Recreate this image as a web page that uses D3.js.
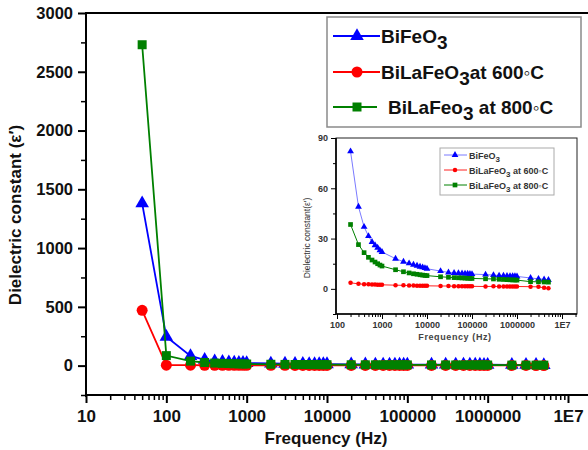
<!DOCTYPE html>
<html>
<head>
<meta charset="utf-8">
<script src="https://cdn.jsdelivr.net/npm/d3@7"></script>
<style>
  body { margin: 0; background: #fff; }
  text { font-family: "Liberation Sans", Arial, sans-serif; }
</style>
</head>
<body>
<div id="chart"></div>
<script>
// frequencies (Hz) measured
var freq = [50, 100, 200, 300, 400, 500, 600, 700, 800, 900,
  1000, 2000, 3000, 4000, 5000, 6000, 7000, 8000, 9000,
  10000, 20000, 30000, 40000, 50000, 60000, 70000, 80000, 90000,
  100000, 200000, 300000, 400000, 500000, 600000, 700000, 800000, 900000,
  1000000, 2000000, 3000000, 4000000, 5000000];

var bifeo3 = [1380, 245, 82, 49, 37, 31.5, 28, 26, 24.5, 23,
  22, 18, 16.2, 15.2, 14.4, 13.8, 13.2, 12.8, 12.4,
  12, 10.6, 9.8, 9.5, 9.3, 9.2, 9.1, 9, 8.9,
  8.8, 8.5, 8.2, 7.9, 7.8, 7.7, 7.6, 7.6, 7.5,
  7.4, 6.5, 6.0, 5.6, 5.3];

var bila600 = [470, 4, 3.6, 3.0, 2.8, 2.7, 2.6, 2.6, 2.5, 2.5,
  2.4, 2.2, 2.1, 2.0, 2.0, 1.9, 1.9, 1.9, 1.8,
  1.8, 1.7, 1.7, 1.6, 1.6, 1.6, 1.6, 1.5, 1.5,
  1.5, 1.4, 1.5, 1.4, 1.4, 1.4, 1.4, 1.4, 1.4,
  1.4, 1.3, 1.2, 0.6, 0.4];

var bila800 = [2730, 85, 38.4, 26.4, 21.6, 18.8, 17.2, 16, 15, 14.2,
  13.6, 11.4, 10.2, 9.5, 9, 8.7, 8.4, 8.2, 8.0,
  7.9, 7.2, 6.9, 6.7, 6.6, 6.5, 6.4, 6.3, 6.3,
  6.2, 6.0, 5.9, 5.7, 5.6, 5.5, 5.4, 5.3, 5.3,
  5.2, 4.3, 4.2, 4.1, 4.0];

var xMajor = [10, 100, 1000, 10000, 100000, 1000000, 10000000];
var xLabels = ["10", "100", "1000", "10000", "100000", "1000000", "1E7"];
var yMajor = [0, 500, 1000, 1500, 2000, 2500, 3000];
var yMinor = [-250, 250, 750, 1250, 1750, 2250, 2750];
var insetXMajor = [100, 1000, 10000, 100000, 1000000, 10000000];
var insetXLabels = ["100", "1000", "10000", "100000", "1000000", "1E7"];
var insetYMajor = [0, 30, 60, 90];
var insetYMinor = [-15, 15, 45, 75];

var W = 588, H = 450;

var svg = d3.select("#chart").append("svg")
  .attr("width", W)
  .attr("height", H);

function minorsBetween(lo, hi) {
  var out = [];
  for (var p = lo; p < hi; p *= 10) {
    for (var k = 2; k <= 9; k++) out.push(p * k);
  }
  return out;
}

function seriesOf(vals, skip) {
  return freq.map(function(f, i) { return { f: f, v: vals[i] }; }).slice(skip);
}

var series = [
  { key: "BiFeO3", vals: bifeo3, color: "#0000ff", insetLine: "#7a7aff", sym: d3.symbolTriangle },
  { key: "600", vals: bila600, color: "#ff0000", insetLine: "#ff2020", sym: d3.symbolCircle },
  { key: "800", vals: bila800, color: "#008000", insetLine: "#008000", sym: d3.symbolSquare }
];

// ---------- main plot ----------
var x = d3.scaleLog().domain([10, 1e7]).range([86, 568]);
var y = d3.scaleLinear().domain([-250, 3000]).range([395, 13]);

var main = svg.append("g");

// x axis
main.append("g")
  .attr("transform", "translate(0,395)")
  .call(d3.axisBottom(x).tickValues(minorsBetween(10, 1e7)).tickSize(5).tickFormat(""))
  .call(function(g) { g.select(".domain").remove(); })
  .selectAll("line").attr("stroke-width", 1.5);

var xAx = main.append("g")
  .attr("transform", "translate(0,395)")
  .call(d3.axisBottom(x).tickValues(xMajor).tickSize(8).tickPadding(7)
    .tickFormat(function(d, i) { return xLabels[i]; }));
xAx.select(".domain").remove();
xAx.selectAll("line").attr("stroke-width", 2);
xAx.selectAll("text")
  .attr("font-size", "17px")
  .attr("font-weight", "bold")
  .attr("fill", "#111");

// y axis
main.append("g")
  .attr("transform", "translate(86,0)")
  .call(d3.axisLeft(y).tickValues(yMinor).tickSize(5).tickFormat(""))
  .call(function(g) { g.select(".domain").remove(); })
  .selectAll("line").attr("stroke-width", 1.5);

var yAx = main.append("g")
  .attr("transform", "translate(86,0)")
  .call(d3.axisLeft(y).tickValues(yMajor).tickSize(8).tickPadding(5).tickFormat(d3.format("d")));
yAx.select(".domain").remove();
yAx.selectAll("line").attr("stroke-width", 2);
yAx.selectAll("text")
  .attr("font-size", "16.5px")
  .attr("font-weight", "bold")
  .attr("fill", "#111");

// frame lines
main.append("path")
  .attr("d", "M86,397V13H600")
  .attr("fill", "none")
  .attr("stroke", "#000")
  .attr("stroke-width", 2);
main.append("line")
  .attr("x1", 85).attr("x2", 600)
  .attr("y1", 395).attr("y2", 395)
  .attr("stroke", "#000")
  .attr("stroke-width", 2);

// axis titles
main.append("text")
  .attr("x", 326).attr("y", 444)
  .attr("text-anchor", "middle")
  .attr("font-size", "17px")
  .attr("font-weight", "bold")
  .attr("fill", "#111")
  .text("Frequency (Hz)");

main.append("text")
  .attr("transform", "translate(21,215) rotate(-90)")
  .attr("text-anchor", "middle")
  .attr("font-size", "17px")
  .attr("font-weight", "bold")
  .attr("fill", "#111")
  .text("Dielectric constant (ε′)");

var mainSize = { "BiFeO3": 80, "600": 95, "800": 81 };

var line = d3.line()
  .x(function(d) { return x(d.f); })
  .y(function(d) { return y(d.v); });

series.forEach(function(s) {
  var pts = seriesOf(s.vals, 0);
  main.append("path")
    .datum(pts)
    .attr("d", line)
    .attr("fill", "none")
    .attr("stroke", s.color)
    .attr("stroke-width", 1.8);
  main.selectAll(".m" + s.key)
    .data(pts)
    .enter().append("path")
    .attr("transform", function(d) { return "translate(" + x(d.f) + "," + y(d.v) + ")"; })
    .attr("d", d3.symbol().type(s.sym).size(mainSize[s.key]))
    .attr("fill", s.color);
});

// main legend
var leg = svg.append("g");
leg.append("rect")
  .attr("x", 327).attr("y", 17)
  .attr("width", 254).attr("height", 110)
  .attr("fill", "#fff")
  .attr("stroke", "#8a8a8a")
  .attr("stroke-width", 1.5);

var legRows = [
  { s: series[0], y: 36, lx2: 380, tx: 381, pre: "BiFeO", post: "" },
  { s: series[1], y: 72, lx2: 380, tx: 381, pre: "BiLaFeO", post: "at 600◦C" },
  { s: series[2], y: 107, lx2: 377, tx: 388, pre: "BiLaFeo", post: " at 800◦C" }
];

legRows.forEach(function(r) {
  leg.append("line")
    .attr("x1", 333).attr("x2", r.lx2)
    .attr("y1", r.y).attr("y2", r.y)
    .attr("stroke", r.s.color)
    .attr("stroke-width", 1.8);
  leg.append("path")
    .attr("transform", "translate(357," + r.y + ")")
    .attr("d", d3.symbol().type(r.s.sym).size(mainSize[r.s.key]))
    .attr("fill", r.s.color);
  var t = leg.append("text")
    .attr("x", r.tx).attr("y", r.y + 7)
    .attr("font-size", "19px")
    .attr("font-weight", "bold")
    .attr("fill", "#111");
  t.append("tspan").text(r.pre);
  t.append("tspan").attr("dy", 6).text("3");
  if (r.post) t.append("tspan").attr("dy", -6).text(r.post);
});

// ---------- inset ----------
var ix = d3.scaleLog().domain([100, 1e7]).range([337, 562]);
var iy = d3.scaleLinear().domain([-15, 90]).range([314, 138]);

var inset = svg.append("g");

inset.append("rect")
  .attr("x", 336).attr("y", 138)
  .attr("width", 241).attr("height", 176)
  .attr("fill", "#fff")
  .attr("stroke", "#222")
  .attr("stroke-width", 1);

inset.append("g")
  .attr("transform", "translate(0,314)")
  .call(d3.axisBottom(ix).tickValues(minorsBetween(100, 1e7).concat([2e7])).tickSize(3).tickFormat(""))
  .call(function(g) { g.select(".domain").remove(); });

var ixAx = inset.append("g")
  .attr("transform", "translate(0,314)")
  .call(d3.axisBottom(ix).tickValues(insetXMajor).tickSize(5).tickPadding(3)
    .tickFormat(function(d, i) { return insetXLabels[i]; }));
ixAx.select(".domain").remove();
ixAx.selectAll("text")
  .attr("font-size", "9px")
  .attr("font-weight", "bold")
  .attr("fill", "#333");

inset.append("g")
  .attr("transform", "translate(336,0)")
  .call(d3.axisLeft(iy).tickValues(insetYMinor).tickSize(3).tickFormat(""))
  .call(function(g) { g.select(".domain").remove(); });

var iyAx = inset.append("g")
  .attr("transform", "translate(336,0)")
  .call(d3.axisLeft(iy).tickValues(insetYMajor).tickSize(5).tickPadding(3));
iyAx.select(".domain").remove();
iyAx.selectAll("text")
  .attr("font-size", "9px")
  .attr("font-weight", "bold")
  .attr("fill", "#333");

inset.append("path")
  .attr("d", "M336,138V314H577")
  .attr("fill", "none")
  .attr("stroke", "#000")
  .attr("stroke-width", 1.6);

inset.append("text")
  .attr("x", 455).attr("y", 340)
  .attr("text-anchor", "middle")
  .attr("font-size", "9px")
  .attr("font-weight", "bold")
  .attr("letter-spacing", "0.6px")
  .attr("fill", "#444")
  .text("Frequency (Hz)");

inset.append("text")
  .attr("transform", "translate(310,238) rotate(-90)")
  .attr("text-anchor", "middle")
  .attr("font-size", "8.5px")
  .attr("fill", "#333")
  .text("Dielectric constant(ε′)");

var insetSize = { "BiFeO3": 20, "600": 16, "800": 22 };

var iline = d3.line()
  .x(function(d) { return ix(d.f); })
  .y(function(d) { return iy(d.v); });

series.forEach(function(s) {
  var pts = seriesOf(s.vals, 2);
  inset.append("path")
    .datum(pts)
    .attr("d", iline)
    .attr("fill", "none")
    .attr("stroke", s.insetLine)
    .attr("stroke-width", 1);
  inset.selectAll(".i" + s.key)
    .data(pts)
    .enter().append("path")
    .attr("transform", function(d) { return "translate(" + ix(d.f) + "," + iy(d.v) + ")"; })
    .attr("d", d3.symbol().type(s.sym).size(insetSize[s.key]))
    .attr("fill", s.color);
});

// inset legend
inset.append("rect")
  .attr("x", 440).attr("y", 148)
  .attr("width", 114).attr("height", 47)
  .attr("fill", "#fff")
  .attr("stroke", "#aaa")
  .attr("stroke-width", 1);

var iRows = [
  { s: series[0], y: 155, pre: "BiFeO", post: "" },
  { s: series[1], y: 170, pre: "BiLaFeO", post: " at 600◦C" },
  { s: series[2], y: 185, pre: "BiLaFeO", post: " at 800◦C" }
];

iRows.forEach(function(r) {
  inset.append("line")
    .attr("x1", 444).attr("x2", 467)
    .attr("y1", r.y).attr("y2", r.y)
    .attr("stroke", r.s.insetLine)
    .attr("stroke-width", 1);
  inset.append("path")
    .attr("transform", "translate(455," + r.y + ")")
    .attr("d", d3.symbol().type(r.s.sym).size(insetSize[r.s.key]))
    .attr("fill", r.s.color);
  var t = inset.append("text")
    .attr("x", 469).attr("y", r.y + 3.5)
    .attr("font-size", "9px")
    .attr("font-weight", "bold")
    .attr("fill", "#333");
  t.append("tspan").text(r.pre);
  t.append("tspan").attr("dy", 3).attr("font-size", "8px").text("3");
  if (r.post) t.append("tspan").attr("dy", -3).text(r.post);
});
</script>
</body>
</html>
